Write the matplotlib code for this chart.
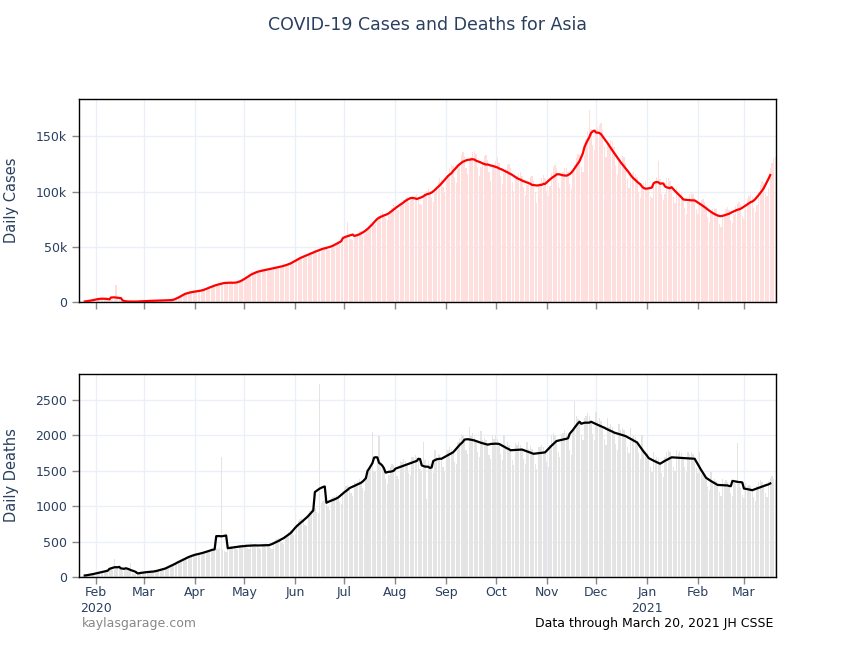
#!/usr/bin/env python3
"""Daily COVID-19 cases and deaths for Asia, with centred 7-day averages."""

import matplotlib
matplotlib.use('Agg')
import matplotlib.pyplot as plt
import matplotlib.dates as mdates
from matplotlib.ticker import FuncFormatter
import pandas as pd

# one value per day, 2020-01-22 .. 2021-03-20, rows are Wed..Tue weeks
start_date = '2020-01-22'
end_date = '2021-03-20'

# daily new cases, thousands
cases_k = [
    0.6, 0.3, 0.3, 0.7, 0.8, 0.9, 1.5,
    1.7, 2.0, 2.1, 2.6, 2.8, 3.2, 3.9,
    3.7, 3.2, 3.4, 2.6, 2.9, 2.5, 2.0,
    2.0, 15.2, 4.0, 2.6, 1.5, 1.2, 1.0,
    1.1, 0.5, 0.6, 0.5, 0.5, 0.6, 0.8,
    0.6, 0.7, 0.8, 0.9, 0.9, 1.0, 0.8,
    1.3, 1.5, 1.6, 1.5, 1.3, 1.2, 1.4,
    1.6, 1.7, 1.9, 1.8, 1.6, 1.5, 1.9,
    2.0, 2.2, 2.4, 2.8, 3.6, 5.8, 6.5,
    7.0, 8.0, 8.4, 8.8, 8.5, 9.0, 9.6,
    9.8, 10.2, 10.0, 10.5, 9.6, 10.8, 11.5,
    12.0, 13.0, 13.8, 14.5, 14.2, 14.8, 15.5,
    16.0, 16.8, 17.2, 17.6, 16.5, 17.9, 18.0,
    18.2, 17.5, 17.9, 18.0, 16.8, 17.2, 18.3,
    19.0, 20.2, 21.5, 22.4, 22.0, 23.5, 24.6,
    26.0, 27.5, 28.0, 27.9, 26.4, 27.6, 29.0,
    29.0, 30.2, 30.5, 30.0, 28.8, 29.5, 31.0,
    31.5, 32.2, 33.0, 32.5, 31.0, 31.8, 33.4,
    33.5, 35.2, 36.0, 36.2, 34.8, 36.0, 38.5,
    39.5, 41.0, 42.0, 42.5, 40.0, 40.8, 42.6,
    44.0, 45.5, 46.5, 47.0, 44.2, 44.8, 46.8,
    48.5, 49.8, 50.5, 51.0, 47.5, 47.2, 49.5,
    51.5, 53.0, 54.0, 55.5, 53.0, 52.5, 55.0,
    57.0, 59.5, 73.0, 61.0, 57.5, 56.0, 58.0,
    60.5, 62.5, 64.0, 64.5, 60.0, 60.5, 63.5,
    66.0, 69.0, 71.5, 73.0, 70.0, 70.5, 74.0,
    78.0, 80.5, 82.0, 79.5, 76.0, 74.5, 79.0,
    81.5, 85.0, 87.5, 88.0, 83.5, 83.0, 87.0,
    89.5, 92.0, 94.5, 95.5, 91.0, 91.5, 93.0,
    96.0, 96.5, 97.5, 93.5, 89.0, 88.0, 97.0,
    99, 101, 103, 101, 94, 91, 100,
    104, 109, 112, 111, 104, 100, 112,
    115, 121, 124, 123, 113, 108, 125,
    126, 133, 136, 132, 121, 116, 129,
    131, 136, 137, 134, 122, 114, 122,
    127, 132, 133, 129, 118, 110, 123,
    124, 128, 131, 126, 114, 107, 117,
    120, 124, 125, 121, 109, 101, 112,
    114, 117, 118, 114, 104, 97, 106,
    110, 113, 114, 110, 100, 90, 105,
    108, 112, 115, 112, 101, 96, 105,
    117, 122, 124, 121, 108, 103, 114,
    118, 121, 121, 118, 107, 102, 118,
    124, 130, 134, 133, 122, 118, 132,
    148, 155, 174, 157, 142, 138, 157,
    158, 160, 162, 156, 140, 131, 143,
    144, 147, 146, 140, 124, 116, 128,
    129, 132, 131, 126, 111, 103, 115,
    117, 118, 116, 113, 100, 94, 105,
    108, 110, 102, 104, 96, 94, 107,
    110, 113, 128, 111, 98, 92, 98,
    112, 112, 110, 105, 95, 90, 104,
    100, 101, 99, 95, 85, 80, 91,
    98, 100, 98, 94, 84, 80, 90,
    92, 93, 91, 87, 77, 73, 82,
    84, 85, 84, 80, 71, 68, 77,
    81, 84, 86, 83, 74, 72, 80,
    87, 89, 91, 88, 78, 75, 84,
    93, 96, 98, 95, 85, 82, 88,
    100, 106, 110, 108, 98, 96, 103,
    121, 126, 130, 131,
]

# daily new deaths
deaths = [
    17, 10, 20, 18, 24, 28, 30,
    38, 43, 46, 45, 57, 64, 66,
    73, 73, 86, 89, 97, 108, 97,
    254, 121, 143, 142, 105, 98, 136,
    100, 110, 115, 200, 60, 40, 52,
    55, 48, 52, 65, 55, 78, 75,
    70, 68, 75, 80, 78, 85, 90,
    100, 105, 118, 120, 125, 135, 137,
    175, 180, 195, 205, 200, 215, 230,
    255, 265, 280, 285, 275, 290, 310,
    320, 325, 335, 340, 310, 330, 350,
    360, 370, 385, 390, 370, 375, 410,
    400, 405, 1690, 395, 370, 350, 430,
    430, 440, 430, 415, 395, 380, 450,
    455, 460, 450, 440, 405, 390, 480,
    465, 470, 460, 445, 410, 395, 470,
    470, 475, 465, 450, 415, 400, 475,
    520, 540, 545, 530, 490, 470, 580,
    600, 630, 660, 650, 600, 590, 750,
    790, 820, 830, 800, 740, 720, 900,
    930, 960, 990, 980, 920, 900, 2720,
    1050, 1080, 1100, 1060, 990, 950, 1110,
    1130, 1150, 1160, 1120, 1060, 1030, 1190,
    1260, 1290, 1300, 1260, 1180, 1150, 1345,
    1330, 1360, 1380, 1340, 1260, 1220, 1420,
    1450, 1520, 1560, 2050, 1500, 1480, 1700,
    1990, 1560, 1540, 1520, 1380, 1320, 1440,
    1560, 1600, 1580, 1530, 1420, 1380, 1640,
    1620, 1660, 1640, 1600, 1470, 1440, 1700,
    1690, 1720, 1700, 1660, 1520, 1490, 1910,
    1650, 1100, 1640, 1600, 1520, 1470, 1800,
    1700, 1740, 1720, 1680, 1550, 1500, 1800,
    1790, 1830, 1810, 1770, 1630, 1590, 1900,
    1960, 2020, 2000, 1950, 1790, 1740, 2120,
    1990, 2030, 1980, 1920, 1760, 1700, 2060,
    1930, 1960, 1940, 1870, 1720, 1660, 2010,
    1950, 2000, 1950, 1880, 1730, 1650, 2000,
    1860, 1900, 1860, 1790, 1650, 1580, 1890,
    1870, 1910, 1870, 1800, 1660, 1590, 1900,
    1810, 1850, 1810, 1740, 1600, 1530, 1840,
    1830, 1870, 1830, 1760, 1620, 1550, 1860,
    2000, 2040, 2000, 1920, 1770, 1690, 2020,
    2040, 2080, 2040, 1960, 1800, 1720, 2080,
    2480, 2270, 2230, 2190, 2010, 1930, 2240,
    2280, 2320, 2280, 2190, 2020, 1930, 2330,
    2200, 2250, 2200, 2120, 1950, 1870, 2250,
    2120, 2160, 2120, 2040, 1880, 1800, 2160,
    2070, 2110, 2070, 1990, 1830, 1750, 2110,
    1980, 2010, 1980, 1900, 1750, 1670, 2010,
    1750, 1780, 1750, 1680, 1550, 1480, 1770,
    1660, 1700, 1660, 1600, 1470, 1410, 1700,
    1760, 1790, 1760, 1690, 1550, 1490, 1790,
    1750, 1780, 1750, 1680, 1550, 1480, 1770,
    1740, 1770, 1740, 1670, 1540, 1470, 1760,
    1460, 1480, 1460, 1400, 1290, 1230, 1480,
    1350, 1380, 1350, 1300, 1200, 1140, 1380,
    1340, 1370, 1340, 1290, 1190, 1140, 1330,
    1320, 1890, 1310, 1260, 1160, 1110, 1330,
    1280, 1300, 1280, 1220, 1130, 1080, 1290,
    1340, 1370, 1340, 1280, 1180, 1130, 1360,
    1400, 1420, 1390, 1370,
]

cases_ticks = [0, 50, 100, 150]
deaths_ticks = [0, 500, 1000, 1500, 2000, 2500]

TEXT = '#2a3f5f'
GRID = '#ebf0f8'

plt.rcParams['font.family'] = ['DejaVu Sans']

dates = pd.date_range(start_date, end_date, freq='D')
df = pd.DataFrame({'cases': cases_k, 'deaths': deaths}, index=dates)
# centred 7-day average, as in the original
avg = df.rolling(7, center=True).mean()

W, H = 856, 657
fig = plt.figure(figsize=(W / 100, H / 100), dpi=100)
fig.patch.set_facecolor('white')


def px_axes(left, top, right, bottom):
    return fig.add_axes([left / W, 1 - bottom / H, (right - left) / W, (bottom - top) / H])


ax1 = px_axes(79, 99, 776, 302.3)
ax2 = px_axes(79, 373.7, 776, 577)

ax1.bar(df.index, df['cases'], width=0.8, color='#ffdede', linewidth=0, zorder=2)
ax1.plot(avg.index, avg['cases'], color='red', lw=1.6, zorder=3)

ax2.bar(df.index, df['deaths'], width=0.8, color='#e4e4e4', linewidth=0, zorder=2)
ax2.plot(avg.index, avg['deaths'], color='black', lw=1.6, zorder=3)

xmin = dates[0] - pd.Timedelta(hours=12)
xmax = dates[-1] + pd.Timedelta(hours=12)


def month_label(x, pos):
    d = mdates.num2date(x)
    if pos == 0 or d.month == 1:
        return f"{d:%b}\n{d:%Y}"
    return f"{d:%b}"


for ax, ticks in ((ax1, cases_ticks), (ax2, deaths_ticks)):
    ax.set_xlim(xmin, xmax)
    ax.set_yticks(ticks)
    ax.xaxis.set_major_locator(mdates.MonthLocator())
    ax.grid(True, color=GRID, lw=1, zorder=0)
    ax.set_axisbelow(True)
    for s in ax.spines.values():
        s.set_color('black')
        s.set_linewidth(1)
    ax.tick_params(axis='both', direction='out', length=5, width=1,
                   color='#888888', labelcolor=TEXT, labelsize=9)

ax1.set_ylim(0, 183.7)
ax1.yaxis.set_major_formatter(FuncFormatter(lambda v, p: '0' if v == 0 else f'{v:.0f}k'))
ax1.tick_params(axis='x', labelbottom=False)

ax2.set_ylim(0, 2871)
ax2.xaxis.set_major_formatter(FuncFormatter(month_label))
ax2.tick_params(axis='x', pad=1.5)
for lab in ax2.get_xticklabels():
    lab.set_linespacing(1.3)

fig.text(428 / W, 1 - 25 / H, 'COVID-19 Cases and Deaths for Asia',
         ha='center', va='center', fontsize=12.5, color=TEXT)
fig.text(12 / W, 1 - 200 / H, 'Daily Cases', rotation=90,
         ha='center', va='center', fontsize=10.5, color=TEXT)
fig.text(12 / W, 1 - 475 / H, 'Daily Deaths', rotation=90,
         ha='center', va='center', fontsize=10.5, color=TEXT)
fig.text(82 / W, 1 - 624 / H, 'kaylasgarage.com',
         ha='left', va='center', fontsize=9, color='#888888')
fig.text(773 / W, 1 - 624 / H, 'Data through March 20, 2021 JH CSSE',
         ha='right', va='center', fontsize=9, color='black')

fig.savefig('out.png', dpi=100, facecolor='white')
plt.close(fig)
